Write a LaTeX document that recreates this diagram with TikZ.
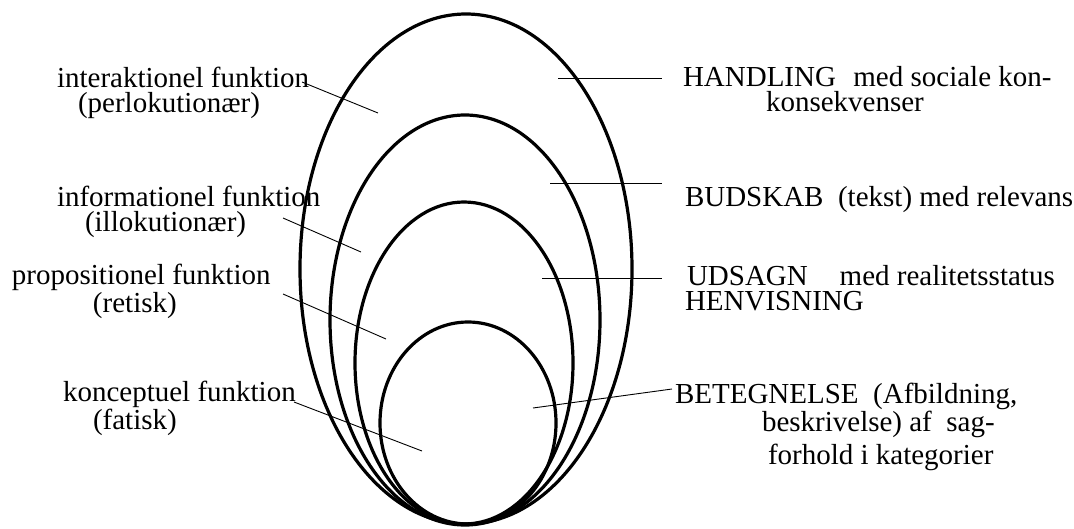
\documentclass[tikz,border=0pt]{standalone}
\usepackage{fontspec}
\setmainfont{Liberation Serif}
\newcommand{\twoline}[3]{\vtop{\hbox{#1}\vskip1pt\hbox{\hspace*{#2}#3}}}
\tikzset{
  lbl/.style={anchor=base west, inner sep=0pt, outer sep=0pt,
              font=\fontsize{29}{24}\selectfont},
  shell/.style={line width=3.2pt, line join=round},
  leader/.style={line width=0.9pt},
}
\begin{document}
\begin{tikzpicture}[x=1pt, y=-1pt]
\path[use as bounding box] (0,0) rectangle (1074,528);
% nested ellipses
\draw[shell] (466,269) ellipse [x radius=166pt, y radius=255pt];
\draw[shell] (465,320) ellipse [x radius=135pt, y radius=205pt];
\draw[shell] (464,363) ellipse [x radius=109pt, y radius=161pt];
\draw[shell] (468,423) ellipse [x radius=88pt, y radius=101pt];
% left labels
\node[lbl] (int) at (57,87) {\twoline{interaktionel funktion}{21pt}{(perlokutionær)}};
\node[lbl] (inf) at (57,206) {\twoline{informationel funktion}{28pt}{(illokutionær)}};
\node[lbl] (pro) at (12,284) {\twoline{propositionel funktion}{81pt}{(retisk)}};
\node[lbl] (kon) at (63,401) {\twoline{konceptuel funktion}{30pt}{(fatisk)}};
% right labels
\node[lbl] (han) at (683,86) {\twoline{HANDLING\hspace{0.6em}med sociale kon-}{83pt}{konsekvenser}};
\node[lbl] (bud) at (685,206) {BUDSKAB\hspace{0.5em}(tekst) med relevans};
\node[lbl] (uds) at (687,285) {\twoline{UDSAGN\hspace{1.1em}med realitetsstatus}{-2pt}{HENVISNING}};
\node[lbl] (bet) at (675,403) {\vtop{\hbox{BETEGNELSE\hspace{0.5em}(Afbildning,}\vskip1pt
   \hbox{\hspace*{87pt}beskrivelse) af\hspace{0.5em}sag-}\vskip5pt
   \hbox{\hspace*{93pt}forhold i kategorier}}};
% leader coordinates
\coordinate (a1) at (302,82);  \coordinate (b1) at (378,113);
\coordinate (a2) at (283,218); \coordinate (b2) at (361,252);
\coordinate (a3) at (283,294); \coordinate (b3) at (386,339);
\coordinate (a4) at (294,402); \coordinate (b4) at (422,451);
\coordinate (c1) at (558,78);  \coordinate (d1) at (662,78);
\coordinate (c2) at (550,183); \coordinate (d2) at (662,183);
\coordinate (c3) at (542,278); \coordinate (d3) at (662,278);
\coordinate (c4) at (533,408); \coordinate (d4) at (672,389);
\draw[leader] (a1) -- (b1);
\draw[leader] (a2) -- (b2);
\draw[leader] (a3) -- (b3);
\draw[leader] (a4) -- (b4);
\draw[leader] (c1) -- (d1);
\draw[leader] (c2) -- (d2);
\draw[leader] (c3) -- (d3);
\draw[leader] (c4) -- (d4);
\end{tikzpicture}
\end{document}
